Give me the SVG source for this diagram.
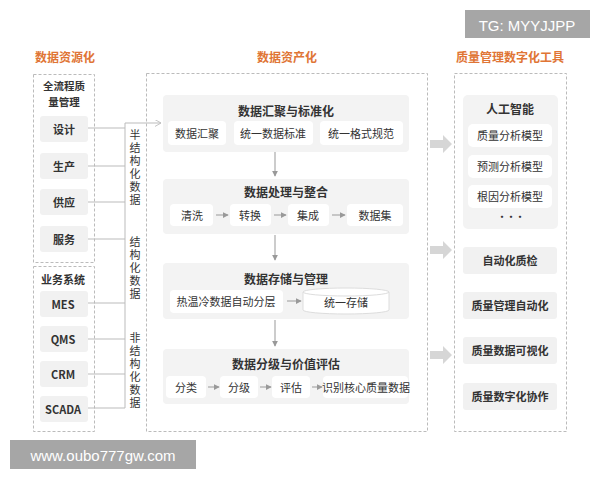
<svg xmlns="http://www.w3.org/2000/svg" width="600" height="480" viewBox="0 0 600 480">
<style>
text{font-family:"Noto Sans CJK SC","Noto Sans",sans-serif;fill:#333;text-anchor:middle;dominant-baseline:central}
.title{fill:#e07535;font-size:12px;font-weight:bold}
.grp{fill:none;stroke:#bbb;stroke-width:1;stroke-dasharray:3,2}
.btn{fill:#f1f1f1}
.sec{fill:#f3f3f3}
.sub{fill:#fff}
.t11{font-size:11px}
.b11{font-size:11px;font-weight:bold}
.st{font-size:12px;font-weight:bold}
.ln{stroke:#bbb;stroke-width:1;fill:none}
.ar{stroke:#999;stroke-width:1;fill:none}
.vt{font-size:11px;writing-mode:vertical-rl;text-orientation:upright;letter-spacing:2px;text-anchor:start}
.wm{fill:#fff;font-family:"Liberation Sans",Arial,sans-serif;font-size:15px}
</style>
<defs>
<marker id="tri" viewBox="0 0 8 8" refX="7" refY="4" markerWidth="6" markerHeight="6" orient="auto"><path d="M0,0 L8,4 L0,8 z" fill="#999"/></marker>
<marker id="open" viewBox="0 0 8 8" refX="7" refY="4" markerWidth="7" markerHeight="7" orient="auto"><path d="M0,0 L7,4 L0,8" fill="none" stroke="#bbb" stroke-width="1"/></marker>
</defs>
<rect width="600" height="480" fill="#fff"/>

<text class="title" x="65" y="56">数据资源化</text>
<text class="title" x="287" y="56">数据资产化</text>
<text class="title" x="510" y="56">质量管理数字化工具</text>

<rect class="grp" x="33.5" y="74.5" width="61" height="188"/>
<rect class="grp" x="33.5" y="266.5" width="61" height="165"/>
<rect class="grp" x="146.5" y="73.5" width="281" height="358"/>
<rect class="grp" x="454.5" y="73.5" width="112" height="358"/>

<g id="src-title1"><text class="b11" x="64" y="85" style="font-size:10.5px">全流程质</text><text class="b11" x="64" y="101" style="font-size:10.5px">量管理</text></g>
<g id="n-design"><rect class="btn" x="40" y="116" width="48" height="26" rx="3"/><text class="b11" x="64" y="129">设计</text></g>
<g id="n-prod"><rect class="btn" x="40" y="153" width="48" height="26" rx="3"/><text class="b11" x="64" y="166">生产</text></g>
<g id="n-supply"><rect class="btn" x="40" y="189" width="48" height="26" rx="3"/><text class="b11" x="64" y="202">供应</text></g>
<g id="n-service"><rect class="btn" x="40" y="226" width="48" height="26" rx="3"/><text class="b11" x="64" y="239">服务</text></g>
<g id="src-title2"><text class="b11" x="63" y="279">业务系统</text></g>
<g id="n-mes"><rect class="btn" x="40" y="291" width="48" height="26" rx="3"/><text class="b11" x="63" y="304">MES</text></g>
<g id="n-qms"><rect class="btn" x="40" y="326" width="48" height="26" rx="3"/><text class="b11" x="63" y="339">QMS</text></g>
<g id="n-crm"><rect class="btn" x="40" y="361" width="48" height="26" rx="3"/><text class="b11" x="63" y="374">CRM</text></g>
<g id="n-scada"><rect class="btn" x="40" y="396" width="48" height="26" rx="3"/><text class="b11" x="63" y="409">SCADA</text></g>

<g id="lbl-semi"><text class="vt" x="135" y="129">半结构化数据</text></g>
<g id="lbl-struct"><text class="vt" x="135" y="236">结构化数据</text></g>
<g id="lbl-unstruct"><text class="vt" x="135" y="332">非结构化数据</text></g>

<g id="sec1"><rect class="sec" x="163" y="95" width="246" height="57" rx="4"/><text class="st" x="286" y="110">数据汇聚与标准化</text>
<rect class="sub" x="168" y="121" width="58" height="24" rx="4"/><text class="t11" x="197" y="133">数据汇聚</text>
<rect class="sub" x="234" y="121" width="79" height="24" rx="4"/><text class="t11" x="273" y="133">统一数据标准</text>
<rect class="sub" x="320" y="121" width="83" height="24" rx="4"/><text class="t11" x="361" y="133">统一格式规范</text></g>

<g id="sec2"><rect class="sec" x="163" y="179" width="246" height="55" rx="4"/><text class="st" x="286" y="191">数据处理与整合</text>
<rect class="sub" x="170" y="204" width="43" height="22" rx="4"/><text class="t11" x="192" y="215">清洗</text>
<rect class="sub" x="230" y="204" width="41" height="22" rx="4"/><text class="t11" x="250" y="215">转换</text>
<rect class="sub" x="288" y="204" width="41" height="22" rx="4"/><text class="t11" x="308" y="215">集成</text>
<rect class="sub" x="347" y="204" width="56" height="22" rx="4"/><text class="t11" x="375" y="215">数据集</text></g>

<g id="sec3"><rect class="sec" x="163" y="263" width="246" height="56" rx="4"/><text class="st" x="286" y="278">数据存储与管理</text>
<rect class="sub" x="170" y="290" width="113" height="23" rx="4"/><text class="t11" x="226" y="301">热温冷数据自动分层</text>
<path d="M303,292V310A43,4 0 0 0 389,310V292A43,4 0 0 0 303,292Z" fill="#fff" stroke="#ddd"/>
<path d="M303,292A43,4 0 0 0 389,292" fill="none" stroke="#ddd"/>
<text class="t11" x="346" y="302">统一存储</text></g>

<g id="sec4"><rect class="sec" x="163" y="349" width="246" height="55" rx="4"/><text class="st" x="286" y="363">数据分级与价值评估</text>
<rect class="sub" x="166" y="376" width="40" height="22" rx="4"/><text class="t11" x="186" y="387">分类</text>
<rect class="sub" x="220" y="376" width="38" height="22" rx="4"/><text class="t11" x="239" y="387">分级</text>
<rect class="sub" x="272" y="376" width="38" height="22" rx="4"/><text class="t11" x="291" y="387">评估</text>
<rect class="sub" x="323" y="376" width="85" height="22" rx="4"/><text class="t11" x="366" y="387">识别核心质量数据</text></g>

<g id="ai"><rect class="sec" x="463" y="95" width="95" height="134" rx="5"/><text class="st" x="510" y="108">人工智能</text>
<rect class="sub" x="468" y="124" width="84" height="23" rx="5"/><text class="t11" x="510" y="135">质量分析模型</text>
<rect class="sub" x="468" y="155" width="84" height="23" rx="5"/><text class="t11" x="510" y="166">预测分析模型</text>
<rect class="sub" x="468" y="185" width="84" height="23" rx="5"/><text class="t11" x="510" y="196">根因分析模型</text>
<text class="t11" x="510" y="216" style="letter-spacing:-2px">···</text></g>
<g id="t-auto"><rect class="btn" x="463" y="247" width="94" height="27" rx="3"/><text class="b11" x="510" y="260">自动化质检</text></g>
<g id="t-mgmt"><rect class="btn" x="463" y="292" width="94" height="27" rx="3"/><text class="b11" x="510" y="305">质量管理自动化</text></g>
<g id="t-vis"><rect class="btn" x="463" y="337" width="94" height="27" rx="3"/><text class="b11" x="510" y="350">质量数据可视化</text></g>
<g id="t-collab"><rect class="btn" x="463" y="383" width="94" height="27" rx="3"/><text class="b11" x="510" y="396">质量数字化协作</text></g>

<g id="connectors">
<path class="ln" d="M88,128H125M88,166H125M88,202H125M88,239H125M88,303H125M88,339H125M88,374H125M88,408H125M125,123V408"/>
<path class="ln" d="M125,123H161" marker-end="url(#open)"/>
<path class="ar" d="M275,152V176" marker-end="url(#tri)"/>
<path class="ar" d="M275,235V260" marker-end="url(#tri)"/>
<path class="ar" d="M275,320V346" marker-end="url(#tri)"/>
<path class="ar" d="M216,215H228" marker-end="url(#tri)"/>
<path class="ar" d="M274,215H286" marker-end="url(#tri)"/>
<path class="ar" d="M332,215H345" marker-end="url(#tri)"/>
<path class="ar" d="M287,301H301" marker-end="url(#tri)"/>
<path class="ar" d="M208,387H219" marker-end="url(#tri)"/>
<path class="ar" d="M260,387H271" marker-end="url(#tri)"/>
<path class="ar" d="M312,387H322" marker-end="url(#tri)"/>
<path d="M430,140H443V135L452,144L443,153V148H430Z" fill="#d6d6d6"/>
<path d="M430,246H443V241L452,250L443,259V254H430Z" fill="#d6d6d6"/>
<path d="M430,351H443V346L452,355L443,364V359H430Z" fill="#d6d6d6"/>
</g>

<rect x="465" y="10" width="125" height="28" fill="#a6a6a6"/><text class="wm" x="527" y="25">TG: MYYJJPP</text>
<rect x="10" y="440" width="186" height="29" fill="#a6a6a6"/><text class="wm" x="103" y="455">www.oubo777gw.com</text>
</svg>
